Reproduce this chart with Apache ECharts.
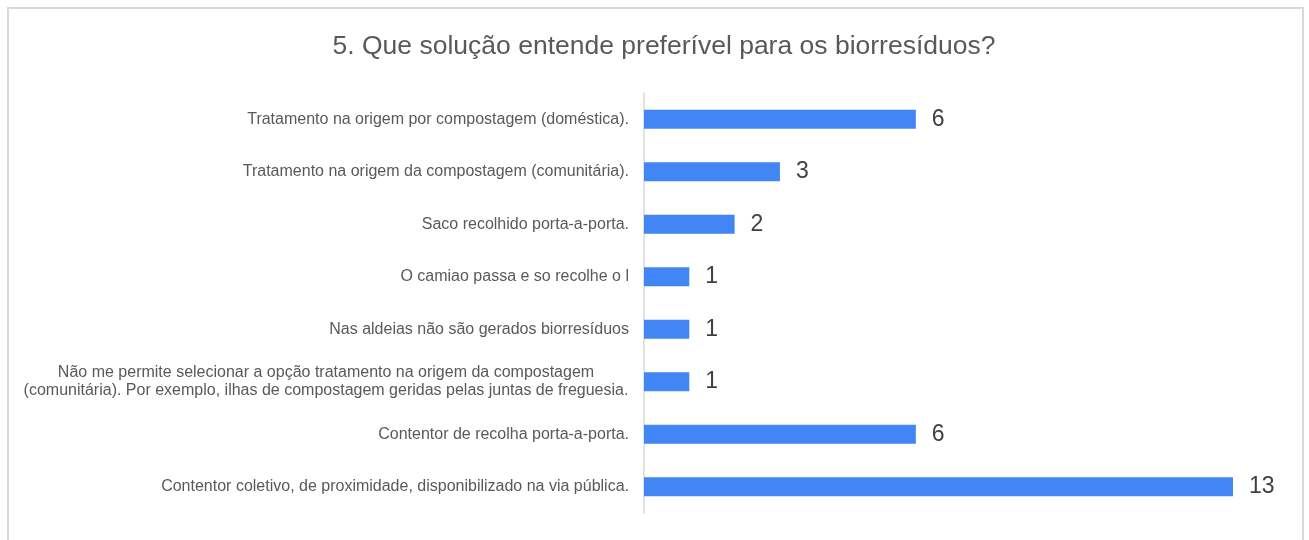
<!DOCTYPE html>
<html>
<head>
<meta charset="utf-8">
<script src="https://cdn.jsdelivr.net/npm/echarts@6/dist/echarts.min.js"></script>
<style>html,body{margin:0;padding:0;background:#fff}#c{width:1309px;height:540px}</style>
</head>
<body>
<div id="c"></div>
<script>
const titleText = '5. Que solução entende preferível para os biorresíduos?';
const categories = [
  'Tratamento na origem por compostagem (doméstica).',
  'Tratamento na origem da compostagem (comunitária).',
  'Saco recolhido porta-a-porta.',
  'O camiao passa e so recolhe o l',
  'Nas aldeias não são gerados biorresíduos',
  'Não me permite selecionar a opção tratamento na origem da compostagem\n(comunitária). Por exemplo, ilhas de compostagem geridas pelas juntas de freguesia.',
  'Contentor de recolha porta-a-porta.',
  'Contentor coletivo, de proximidade, disponibilizado na via pública.'
];
const values = [6, 3, 2, 1, 1, 1, 6, 13];

const chart = echarts.init(document.getElementById('c'), null, {renderer: 'canvas'});
const font = '"Liberation Sans", Arial, sans-serif';
chart.setOption({
  animation: false,
  title: {
    text: titleText,
    left: 659,
    textAlign: 'center',
    top: 28,
    textStyle: {fontFamily: font, fontSize: 26.5, fontWeight: 'normal', color: '#595959'}
  },
  graphic: [{
    type: 'rect', silent: true,
    shape: {x: 8, y: 8, width: 1295, height: 600},
    style: {fill: 'none', stroke: '#d9d9d9', lineWidth: 2}
  }],
  grid: {left: 644, right: 76, top: 93, bottom: 27, containLabel: false},
  xAxis: {
    type: 'value', min: 0, max: 13, show: false
  },
  yAxis: {
    type: 'category',
    inverse: true,
    data: categories,
    axisLine: {show: true, lineStyle: {color: '#d9d9d9', width: 1.5}},
    axisTick: {show: false},
    axisLabel: {
      margin: 15,
      fontFamily: font, fontSize: 16, color: '#595959',
      formatter: function (v) {
        if (v.indexOf('\n') >= 0) {
          return v.split('\n').map(function (l) { return '{c|' + l + '}'; }).join('\n');
        }
        return v;
      },
      rich: {c: {width: 606, align: 'center', fontFamily: font, fontSize: 16, color: '#595959', lineHeight: 18}}
    }
  },
  series: [{
    type: 'bar',
    data: values,
    barWidth: 19,
    itemStyle: {color: '#4285f4'},
    label: {
      show: true, position: 'right', distance: 16,
      fontFamily: font, fontSize: 23, color: '#404040'
    }
  }]
});
</script>
</body>
</html>
